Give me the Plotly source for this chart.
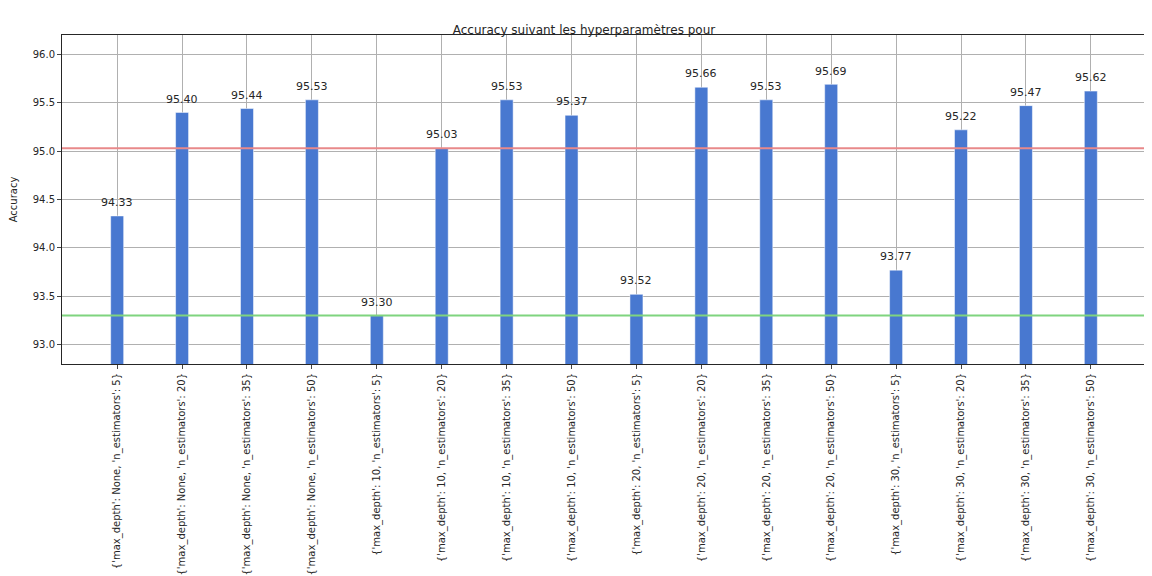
import plotly.graph_objects as go

depths = ['None'] * 4 + ['10'] * 4 + ['20'] * 4 + ['30'] * 4
estimators = [5, 20, 35, 50] * 4
labels = ["{'max_depth': %s, 'n_estimators': %d}" % (d, n) for d, n in zip(depths, estimators)]
accuracy = [94.33, 95.40, 95.44, 95.53, 93.30, 95.03, 95.53, 95.37,
            93.52, 95.66, 95.53, 95.69, 93.77, 95.22, 95.47, 95.62]
mean_line = 95.03
min_line = 93.30

fig = go.Figure()
fig.add_trace(go.Bar(x=labels, y=accuracy, width=0.2, marker_color='#4878d0', showlegend=False))
for lab, v in zip(labels, accuracy):
    fig.add_annotation(x=lab, y=v + 0.05, text='%.2f' % v, showarrow=False, yanchor='bottom',
                       font=dict(size=11, color='#262626'))
fig.add_hline(y=mean_line, line_color='#e8898a', line_width=2)
fig.add_hline(y=min_line, line_color='#7fd47f', line_width=2)

fig.update_layout(template='plotly_white', width=1152, height=576,
                  title={'text': 'Accuracy suivant les hyperparamètres pour', 'x': 0.5, 'xanchor': 'center',
                         'y': 0.97, 'font': {'size': 12, 'color': '#262626'}},
                  font=dict(family='DejaVu Sans', size=10, color='#262626'),
                  margin=dict(l=54, r=14, t=27, b=220, autoexpand=False),
                  plot_bgcolor='white', paper_bgcolor='white')
fig.update_xaxes(tickangle=-90, showgrid=True, gridcolor='#b0b0b0', layer='above traces', automargin=False,
                 range=[-0.85, 15.85], tickfont_size=10,
                 showline=True, mirror=True, linecolor='#262626', ticks='outside', ticklen=4)
fig.update_yaxes(range=[92.8, 96.2], dtick=0.5, tickformat='.1f', showgrid=True, gridcolor='#b0b0b0',
                 layer='above traces', zeroline=False, showline=True, mirror=True, linecolor='#262626',
                 ticks='outside', ticklen=4, title_text='Accuracy', title_font_size=10, automargin=False)
fig.write_html("out.html")
